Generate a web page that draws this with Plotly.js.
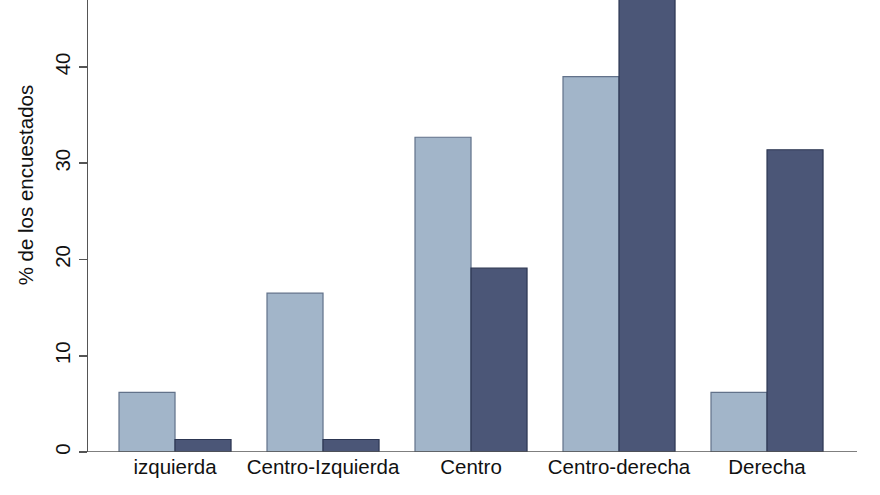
<!DOCTYPE html>
<html>
<head>
<meta charset="utf-8">
<script src="https://cdn.plot.ly/plotly-3.0.1.min.js"></script>
<style>html,body{margin:0;padding:0;background:#fff;}#chart{width:880px;height:495px;}</style>
</head>
<body>
<div id="chart"></div>
<script>
var categories = ["izquierda", "Centro-Izquierda", "Centro", "Centro-derecha", "Derecha"];
var seriesLight = [6.2, 16.5, 32.7, 39.0, 6.2];
var seriesDark = [1.3, 1.3, 19.1, 48.5, 31.4];
var yTicks = [0, 10, 20, 30, 40];
var yTitle = "% de los encuestados";

var font = "Liberation Sans, Arial, Helvetica, sans-serif";
var traces = [
  {type: "bar", x: categories, y: seriesLight, name: "A",
   marker: {color: "#a2b5c9", line: {color: "#62728a", width: 1.2}}},
  {type: "bar", x: categories, y: seriesDark, name: "B",
   marker: {color: "#4b5677", line: {color: "#2c3652", width: 1.2}}}
];
var layout = {
  width: 880, height: 495,
  margin: {l: 88, r: 23, t: 0, b: 43},
  paper_bgcolor: "#ffffff", plot_bgcolor: "#ffffff",
  showlegend: false,
  barmode: "group", bargap: 0.243, bargroupgap: 0,
  font: {family: font, size: 20.5, color: "#111"},
  xaxis: {
    range: [-0.588, 4.608], showgrid: false, zeroline: false,
    showline: false, ticks: "", tickfont: {family: font, size: 20.5, color: "#111"}
  },
  yaxis: {
    range: [0, 46.96], tickvals: yTicks, ticktext: yTicks.map(String),
    showgrid: false, zeroline: false, showline: true, linecolor: "#555", linewidth: 1.5,
    ticks: "outside", ticklen: 8, tickwidth: 1.5, tickcolor: "#555",
    tickangle: -90, tickfont: {family: font, size: 20.5, color: "#111"}
  },
  shapes: [
    {type: "line", xref: "paper", yref: "y", x0: -0.011, x1: 1.0, y0: 0, y1: 0,
     line: {color: "#555", width: 1.5}}
  ],
  annotations: [
    {text: yTitle, textangle: -90, xref: "paper", yref: "y", x: -0.082, y: 27.8,
     xanchor: "center", yanchor: "middle", showarrow: false,
     font: {family: font, size: 20.5, color: "#111"}}
  ]
};
Plotly.newPlot("chart", traces, layout, {displayModeBar: false, staticPlot: true});
</script>
</body>
</html>
